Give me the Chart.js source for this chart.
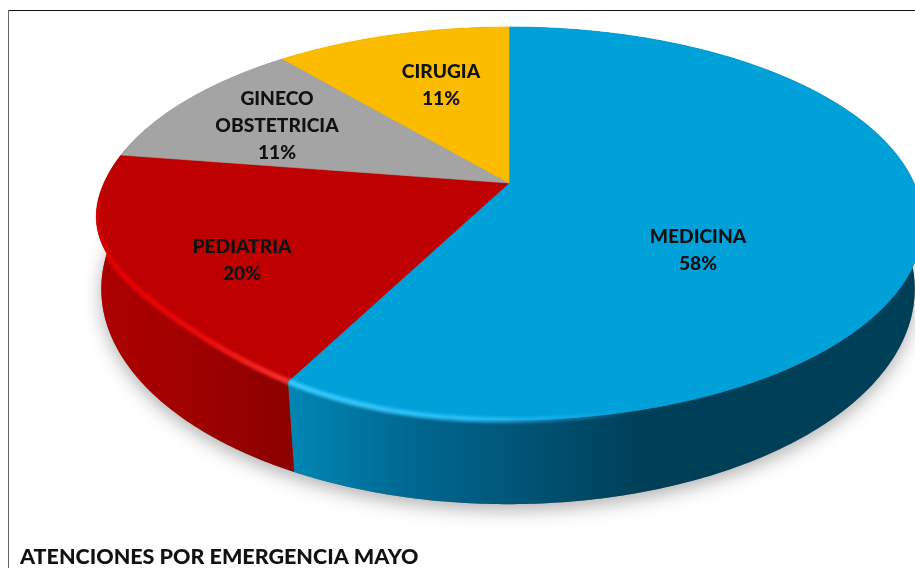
<!DOCTYPE html>
<html>
<head>
<meta charset="utf-8">
<style>
html,body{margin:0;padding:0;background:#fff;overflow:hidden}
#c{display:block;filter:blur(0.45px)}
</style>
<script src="https://cdn.jsdelivr.net/npm/chart.js@4"></script>
</head>
<body>
<canvas id="c" width="915" height="568"></canvas>
<script>
const categories = [['MEDICINA'], ['PEDIATRIA'], ['GINECO', 'OBSTETRICIA'], ['CIRUGIA']];
const shares = [57.6, 19.85, 11.35, 11.2];
const sliceColors = ['#00A0D9', '#BF0000', '#A4A4A4', '#FBBC00'];
const chartTitle = 'ATENCIONES POR EMERGENCIA MAYO';

/* presentation geometry of the tilted disc */
const labelSpots = [[698, 236.5], [242, 246.5], [277, 98.5], [441, 71.5]];
const lineGap = 27;
const top3d = {x: 509, y: 183, a: 405, b: 188.2, k: -0.206};
const bot3d = {x: 508, y: 244.7, a: 398, b: 206, k: -0.206};
const wallStops = [
  [[290, '#0086B4'], [420, '#00668F'], [500, '#00587C'], [640, '#003F58'], [915, '#003F58']],
  [[95, '#AE0000'], [200, '#9E0000'], [296, '#8A0000']],
  [[120, '#707070'], [290, '#606060']],
  [[280, '#B08400'], [509, '#906C00']]
];
const rimGlow = [
  [[290, 'rgba(60,205,255,0.95)'], [470, 'rgba(50,200,255,0.8)'], [640, 'rgba(40,190,255,0)']],
  [[97, 'rgba(235,0,0,0.6)'], [125, 'rgba(235,0,0,0.95)'], [200, 'rgba(240,10,10,0.95)'], [290, 'rgba(255,50,50,1)']]
];

function project(p, ang) {
  const isTop = p === top3d;
  const cs = Math.cos(ang), sn = Math.sin(ang);
  const near = cs < 0 && sn > 0 ? -2 * cs * sn : 0;
  if (!isTop) ang -= 0.03 * near;
  const u = Math.cos(ang), v = Math.sin(ang), d = 1 + p.k * v;
  const pull = isTop ? 1 - 0.055 * near * near * near : 1;
  return [p.x + pull * p.a * u / d, p.y + pull * p.b * v / d];
}
function trace(ctx, p, a0, a1, first) {
  const n = Math.max(4, Math.ceil(Math.abs(a1 - a0) * 90));
  for (let i = 0; i <= n; i++) {
    const q = project(p, a0 + (a1 - a0) * i / n);
    if (i === 0 && first) ctx.moveTo(q[0], q[1]); else ctx.lineTo(q[0], q[1]);
  }
}
function hGrad(ctx, stops) {
  const x0 = stops[0][0], x1 = stops[stops.length - 1][0];
  const g = ctx.createLinearGradient(x0, 0, x1, 0);
  stops.forEach(s => g.addColorStop((s[0] - x0) / (x1 - x0), s[1]));
  return g;
}

const disc3d = {
  id: 'disc3d',
  beforeDatasetsDraw(chart) {
    const ctx = chart.ctx;
    const arcs = chart.getDatasetMeta(0).data;
    ctx.save();

    /* soft ground shadow */
    ctx.save();
    ctx.shadowColor = 'rgba(0,0,0,0.30)';
    ctx.shadowBlur = 18;
    ctx.shadowOffsetY = 6;
    ctx.fillStyle = '#777';
    ctx.beginPath();
    trace(ctx, bot3d, 0, Math.PI * 2, true);
    ctx.closePath();
    ctx.fill();
    ctx.restore();

    /* walls */
    arcs.forEach((arc, i) => {
      ctx.beginPath();
      trace(ctx, top3d, arc.startAngle, arc.endAngle, true);
      trace(ctx, bot3d, arc.endAngle, arc.startAngle, false);
      ctx.closePath();
      ctx.fillStyle = hGrad(ctx, wallStops[i]);
      ctx.fill();
    });

    /* top face */
    arcs.forEach((arc, i) => {
      ctx.beginPath();
      ctx.moveTo(top3d.x, top3d.y);
      trace(ctx, top3d, arc.startAngle, arc.endAngle, false);
      ctx.closePath();
      ctx.fillStyle = arc.options.backgroundColor;
      ctx.fill();
      ctx.strokeStyle = arc.options.backgroundColor;
      ctx.lineWidth = 0.6;
      ctx.stroke();
    });

    /* bevel highlight on the near edge, kept inside the disc */
    rimGlow.forEach((stops, i) => {
      const arc = arcs[i];
      ctx.save();
      ctx.beginPath();
      trace(ctx, top3d, 0, Math.PI * 2, true);
      ctx.closePath();
      trace(ctx, bot3d, 0, Math.PI * 2, true);
      ctx.closePath();
      ctx.clip('nonzero');
      ctx.filter = 'blur(1.4px)';
      ctx.beginPath();
      trace(ctx, top3d, Math.max(arc.startAngle, 0.15), Math.min(arc.endAngle, 3.05), true);
      ctx.strokeStyle = hGrad(ctx, stops);
      ctx.lineWidth = 5.5;
      ctx.stroke();
      ctx.restore();
    });

    /* value labels */
    const total = shares.reduce((s, v) => s + v, 0);
    ctx.fillStyle = '#111';
    ctx.font = '900 19.2px Lato';
    ctx.textAlign = 'center';
    ctx.textBaseline = 'middle';
    arcs.forEach((arc, i) => {
      const lines = categories[i].concat(Math.round(shares[i] / total * 100) + '%');
      lines.forEach((t, j) => ctx.fillText(t, labelSpots[i][0], labelSpots[i][1] + j * lineGap));
    });
    ctx.restore();
    return false;
  }
};

const frame = {
  id: 'frame',
  beforeDraw(chart) {
    const ctx = chart.ctx;
    ctx.save();
    ctx.fillStyle = '#fff';
    ctx.fillRect(0, 0, 915, 568);
    ctx.fillStyle = '#111';
    ctx.fillRect(9, 10, 906, 1);
    ctx.fillStyle = '#666';
    ctx.fillRect(8, 10, 1, 558);
    ctx.restore();
  }
};

new Chart(document.getElementById('c'), {
  type: 'pie',
  data: {
    labels: categories,
    datasets: [{data: shares, backgroundColor: sliceColors, borderWidth: 0}]
  },
  options: {
    responsive: false,
    animation: false,
    layout: {padding: {left: 20, right: 0, top: 12, bottom: 0}},
    plugins: {
      legend: {display: false},
      tooltip: {enabled: false},
      title: {
        display: true,
        text: chartTitle,
        position: 'bottom',
        align: 'start',
        color: '#111',
        font: {family: 'Lato', weight: '900', size: 21.5, lineHeight: 1},
        padding: {top: 0, bottom: 0}
      }
    }
  },
  plugins: [frame, disc3d]
});
</script>
</body>
</html>
